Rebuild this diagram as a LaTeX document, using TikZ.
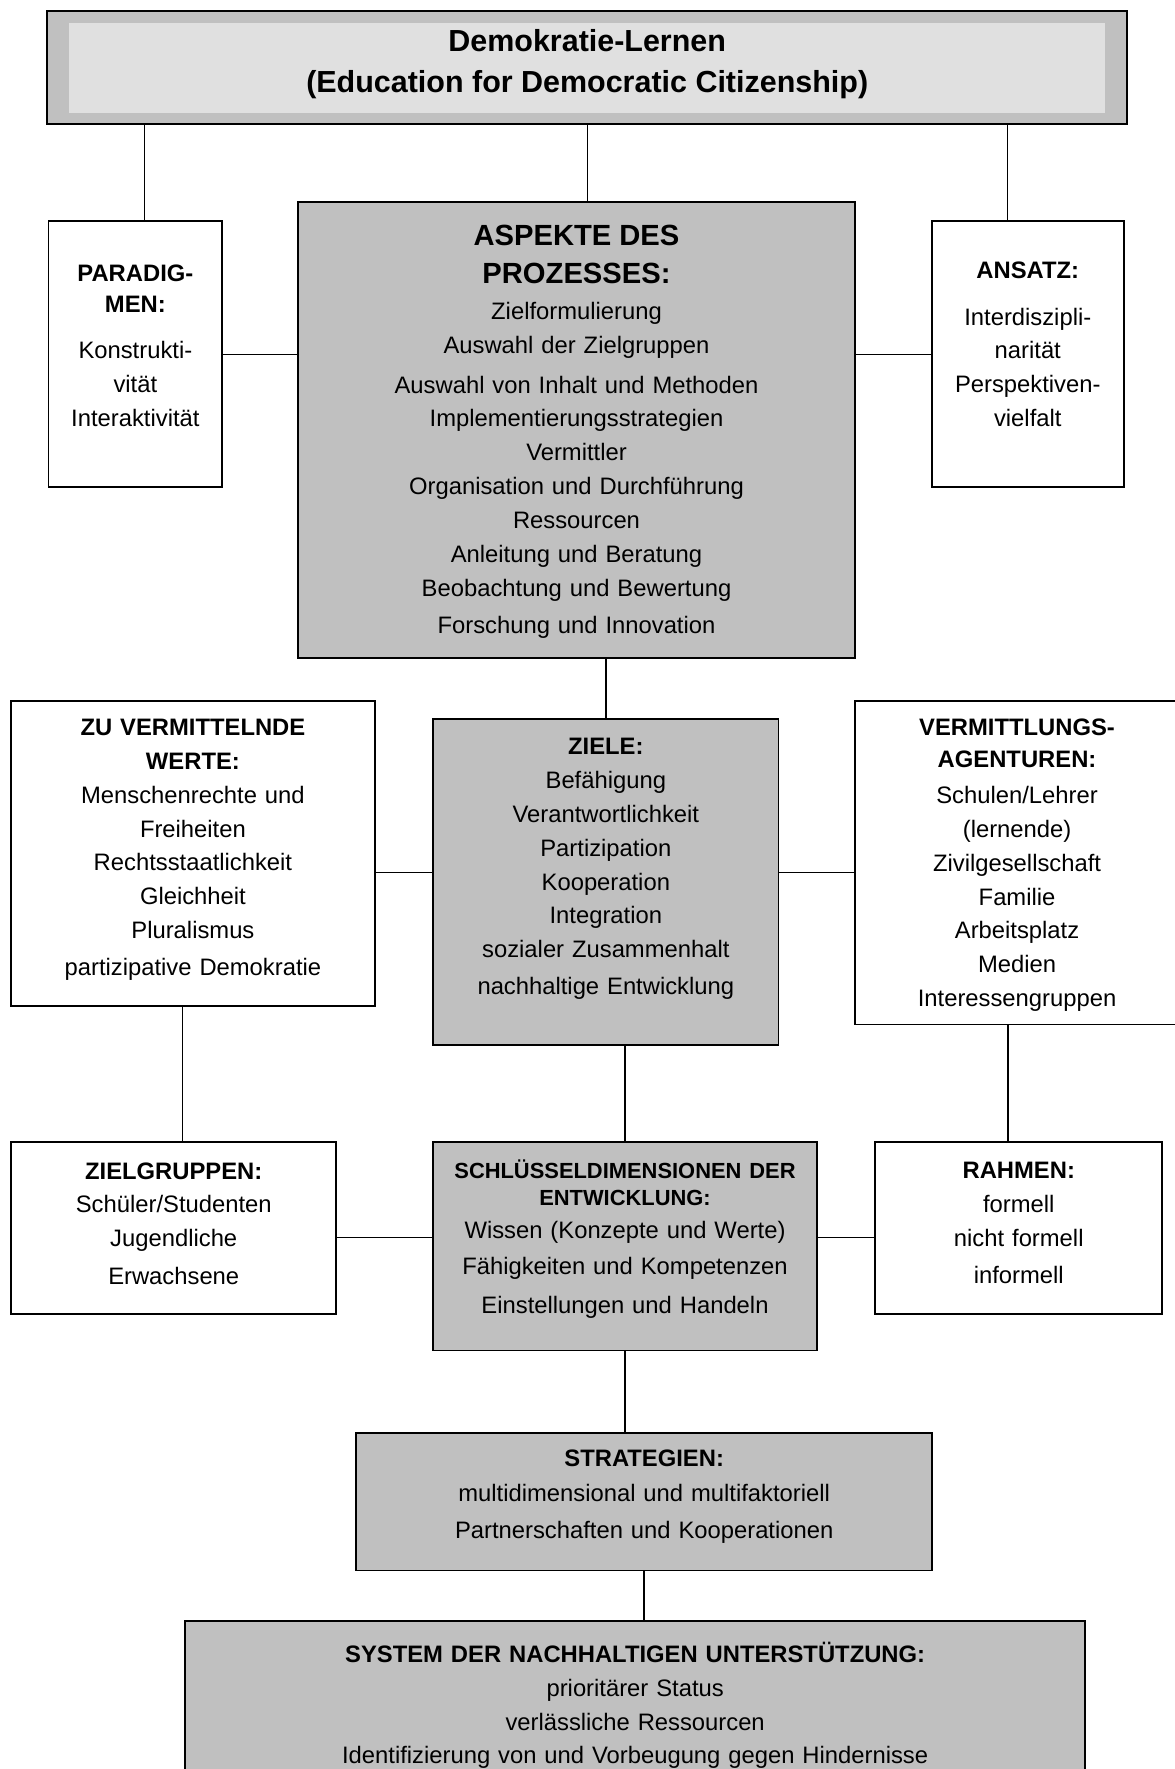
\documentclass[tikz,border=0pt]{standalone}
\usepackage{fontspec}
\setmainfont{Liberation Sans}
\usetikzlibrary{positioning}
\definecolor{grau}{HTML}{C0C0C0}
\definecolor{hellgrau}{HTML}{E0E0E0}

\begin{document}
\begin{tikzpicture}[x=0.025cm, y=-0.025cm,
    weissbox/.style={draw, line width=1.2pt, fill=white, inner sep=0pt},
    graubox/.style={weissbox, fill=grau},
    txt/.style={inner sep=0pt, align=center, font=\fontsize{15}{21.34}\selectfont},
    linie/.style={line width=0.9pt}]
    \useasboundingbox (0,0) rectangle (1041,1568);
    %titel
    \node[graubox, minimum width=23.925cm, minimum height=2.5cm] (titel) at (520.5,60) {};
    \node[fill=hellgrau, inner sep=0pt, minimum width=22.95cm, minimum height=2cm] (titel-i) at (titel.center) {};
    \node[txt, font=\fontsize{19.2}{25.6}\selectfont\bfseries, below=0.425cm of titel.north] (titel-t) {Demokratie-Lernen\\(Education for Democratic Citizenship)};
    %obere reihe
    \node[weissbox, minimum width=3.85cm, minimum height=5.9cm] (paradigm) at (120,314) {};
    \node[txt, text width=3.85cm, below=0.975cm of paradigm.north] (paradigm-t) {\textbf{PARADIG-}\\[-1.4pt]\textbf{MEN:}\\[7.8pt]Konstrukti-\\vität\\Interaktivität};
    \node[graubox, minimum width=12.35cm, minimum height=10.1cm] (aspekte) at (511,381) {};
    \node[txt, text width=12.35cm, below=0.525cm of aspekte.north] (aspekte-t) {\textbf{\fontsize{18.4}{21.34}\selectfont ASPEKTE DES}\\[2.8pt]\textbf{\fontsize{18.4}{21.34}\selectfont PROZESSES:}\\[1.4pt]Zielformulierung\\Auswahl der Zielgruppen\\[3.6pt]Auswahl von Inhalt und Methoden\\Implementierungsstrategien\\Vermittler\\Organisation und Durchführung\\Ressourcen\\Anleitung und Beratung\\Beobachtung und Bewertung\\[2.1pt]Forschung und Innovation};
    \node[weissbox, minimum width=4.25cm, minimum height=5.9cm] (ansatz) at (911,314) {};
    \node[txt, text width=4.25cm, below=0.925cm of ansatz.north] (ansatz-t) {\textbf{ANSATZ:}\\[7.8pt]Interdiszipli-\\narität\\Perspektiven-\\vielfalt};
    %mittlere reihe
    \node[weissbox, minimum width=8.05cm, minimum height=6.775cm] (werte) at (171,756.5) {};
    \node[txt, text width=8.05cm, below=0.425cm of werte.north] (werte-t) {\textbf{ZU VERMITTELNDE}\\\textbf{WERTE:}\\Menschenrechte und\\Freiheiten\\Rechtsstaatlichkeit\\Gleichheit\\Pluralismus\\[2.1pt]partizipative Demokratie};
    \node[graubox, minimum width=7.65cm, minimum height=7.225cm] (ziele) at (537,781.5) {};
    \node[txt, text width=7.65cm, below=0.45cm of ziele.north] (ziele-t) {\textbf{ZIELE:}\\Befähigung\\Verantwortlichkeit\\Partizipation\\Kooperation\\Integration\\sozialer Zusammenhalt\\[2.1pt]nachhaltige Entwicklung};
    \node[weissbox, minimum width=7.175cm, minimum height=7.175cm] (agenturen) at (901.5,764.5) {};
    \node[txt, text width=7.175cm, below=0.425cm of agenturen.north] (agenturen-t) {\textbf{VERMITTLUNGS-}\\[-1.4pt]\textbf{AGENTUREN:}\\[1.4pt]Schulen/Lehrer\\(lernende)\\Zivilgesellschaft\\Familie\\Arbeitsplatz\\Medien\\Interessengruppen};
    %untere reihe
    \node[weissbox, minimum width=7.2cm, minimum height=3.825cm] (zielgruppen) at (154,1088.5) {};
    \node[txt, text width=7.2cm, below=0.475cm of zielgruppen.north] (zielgruppen-t) {\textbf{ZIELGRUPPEN:}\\Schüler/Studenten\\Jugendliche\\[2.1pt]Erwachsene};
    \node[graubox, minimum width=8.5cm, minimum height=4.625cm] (schluessel) at (554,1104.5) {};
    \node[txt, text width=8.5cm, below=0.425cm of schluessel.north] (schluessel-t) {\textbf{\fontsize{13.8}{16.4}\selectfont SCHLÜSSELDIMENSIONEN DER}\\[-4.9pt]\textbf{\fontsize{13.8}{16.4}\selectfont ENTWICKLUNG:}\\Wissen (Konzepte und Werte)\\[1.4pt]Fähigkeiten und Kompetenzen\\[2.8pt]Einstellungen und Handeln};
    \node[weissbox, minimum width=6.35cm, minimum height=3.825cm] (rahmen) at (903,1088.5) {};
    \node[txt, text width=6.35cm, below=0.475cm of rahmen.north] (rahmen-t) {\textbf{RAHMEN:}\\formell\\nicht formell\\[2.1pt]informell};
    %strategien und system
    \node[graubox, minimum width=12.75cm, minimum height=3.05cm] (strategien) at (571,1331) {};
    \node[txt, text width=12.75cm, below=0.4cm of strategien.north] (strategien-t) {\textbf{STRATEGIEN:}\\[0.7pt]multidimensional und multifaktoriell\\[2.1pt]Partnerschaften und Kooperationen};
    \node[graubox, minimum width=19.95cm, minimum height=4.075cm] (system) at (563,1518.5) {};
    \node[txt, text width=19.95cm, below=0.475cm of system.north] (system-t) {\textbf{SYSTEM DER NACHHALTIGEN UNTERSTÜTZUNG:}\\prioritärer Status\\verlässliche Ressourcen\\Identifizierung von und Vorbeugung gegen Hindernisse};
    %verbindungen
    \coordinate (a1) at ([xshift=0.2cm]paradigm.north);
    \coordinate (a2) at ([xshift=-0.45cm]ansatz.north);
    \draw[linie] (a1) -- (a1 |- titel.south);
    \draw[linie] (titel.south) -- (titel.south |- aspekte.north);
    \draw[linie] (a2) -- (a2 |- titel.south);
    \draw[linie] (paradigm.east) -- (paradigm.east -| aspekte.west);
    \draw[linie] (ansatz.west) -- (ansatz.west -| aspekte.east);
    \draw[linie] (ziele.north) -- (ziele.north |- aspekte.south);
    \coordinate (b1) at ([yshift=0.2cm]ziele.west);
    \coordinate (b2) at ([yshift=0.2cm]ziele.east);
    \draw[linie] (b1) -- (b1 -| werte.east);
    \draw[linie] (b2) -- (b2 -| agenturen.west);
    \coordinate (c1) at ([xshift=-0.225cm]werte.south);
    \coordinate (c2) at ([xshift=-0.2cm]agenturen.south);
    \draw[linie] (c1) -- (c1 |- zielgruppen.north);
    \draw[linie] (schluessel.north) -- (schluessel.north |- ziele.south);
    \draw[linie] (c2) -- (c2 |- rahmen.north);
    \coordinate (d1) at ([yshift=0.19cm]schluessel.west);
    \coordinate (d2) at ([yshift=0.19cm]schluessel.east);
    \draw[linie] (d1) -- (d1 -| zielgruppen.east);
    \draw[linie] (d2) -- (d2 -| rahmen.west);
    \draw[linie] (schluessel.south) -- (schluessel.south |- strategien.north);
    \draw[linie] (strategien.south) -- (strategien.south |- system.north);
\end{tikzpicture}
\end{document}
